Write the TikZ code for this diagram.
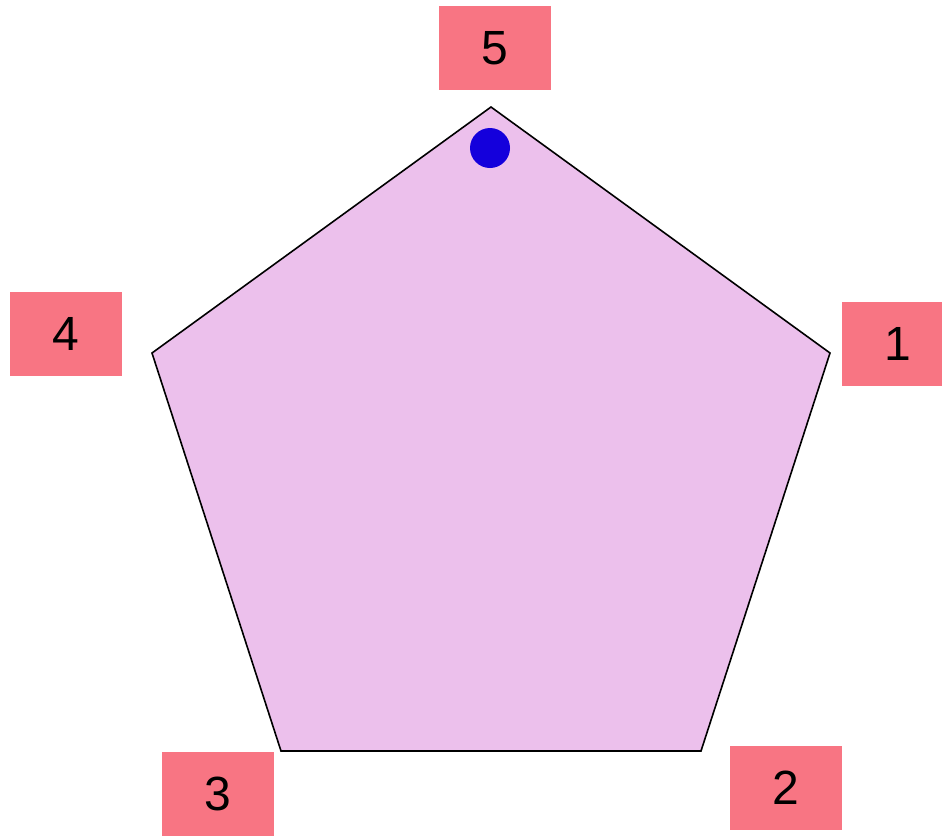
\documentclass[tikz,border=0pt]{standalone}
\usepackage{fontspec}
\setmainfont{Liberation Sans}
\definecolor{lbl}{RGB}{248,117,131}
\definecolor{pent}{RGB}{236,192,236}
\definecolor{dot}{RGB}{20,0,220}
\begin{document}
\begin{tikzpicture}[x=1pt,y=-1pt,
  lbox/.style={fill=lbl,minimum width=112pt,minimum height=84pt,inner sep=0pt,font=\fontsize{48}{50}\selectfont}]
\useasboundingbox (0,0) rectangle (942,836);
\clip (0,0) rectangle (942,836);
\coordinate (v5) at (491,107);
\coordinate (v1) at (830,353);
\coordinate (v2) at (701,751);
\coordinate (v3) at (281,751);
\coordinate (v4) at (152,353);
\draw[fill=pent,line width=1.6pt,line join=miter] (v5) -- (v1) -- (v2) -- (v3) -- (v4) -- cycle;
\fill[dot] (490,148) circle (20);
\node[lbox] (l5) at (495,48) {5};
\node[lbox] (l1) at (898,344) {1};
\node[lbox] (l2) at (786,788) {2};
\node[lbox] (l3) at (218,794) {3};
\node[lbox] (l4) at (66,334) {4};
\end{tikzpicture}
\end{document}
